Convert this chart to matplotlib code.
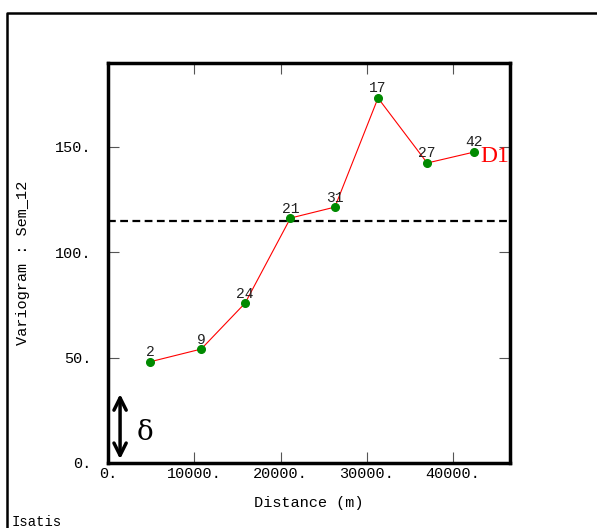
import matplotlib.pyplot as plt
from matplotlib.lines import Line2D

# experimental variogram (lag distance, value, pair count)
dist = [4900, 10800, 15900, 21150, 26300, 31300, 37000, 42450]
gamma = [48.0, 54.0, 75.8, 116.1, 121.3, 173.0, 142.2, 147.4]
npairs = ["2", "9", "24", "21", "31", "17", "27", "42"]
variance = 114.7
xticks = [0, 10000, 20000, 30000, 40000]
yticks = [0, 50, 100, 150]

mono = "Liberation Mono"

fig = plt.figure(figsize=(5.97, 5.28), dpi=100)
ax = fig.add_axes([108/597, 1 - 463/528, 402/597, 400/528])

ax.plot(dist, gamma, color="red", lw=0.8, zorder=2)
ax.plot(dist, gamma, "o", color="#008a00", ms=5.5, zorder=3)
for x, y, n in zip(dist, gamma, npairs):
    ax.text(x, y + 1.2, n, ha="center", va="bottom", fontsize=10.5, family=mono, color="#222222")

ax.axhline(variance, color="black", ls=(0, (3.5, 2)), lw=1.6)
ax.text(42450 + 700, 145.5, "D1", color="red", fontsize=17, family="Liberation Serif",
        va="center", ha="left", clip_on=True)

# delta arrow
ax.annotate("", xy=(1400, 0.5), xytext=(1400, 34),
            arrowprops=dict(arrowstyle="<->", lw=2.5, color="black", mutation_scale=22))
ax.text(3300, 14.5, "δ", fontsize=20, family="DejaVu Serif", va="center", ha="left")

ax.set_xlim(0, 46600)
ax.set_ylim(0, 189.6)
ax.set_xticks(xticks)
ax.set_xticklabels([f"{t}." for t in xticks], family=mono, fontsize=11)
ax.set_yticks(yticks)
ax.set_yticklabels([f"{t}." for t in yticks], family=mono, fontsize=11)
ax.tick_params(direction="in", length=8, width=0.8, color="#555555", top=True, right=True)
ax.tick_params(axis="x", pad=3)
ax.tick_params(axis="y", pad=12)
for s in ax.spines.values():
    s.set_linewidth(2.5)
ax.set_xlabel("Distance (m)", family=mono, fontsize=11, labelpad=11)
ax.set_ylabel("Variogram : Sem_12", family=mono, fontsize=11, labelpad=18)

# outer frame
fig.add_artist(Line2D([7/597, 7/597, 1.01], [-0.01, 1 - 13/528, 1 - 13/528],
                      transform=fig.transFigure, color="black", lw=1.8))
fig.text(12/597, 1 - 522/528, "Isatis", family=mono, fontsize=10, va="center")

fig.savefig("out.png", dpi=100)
